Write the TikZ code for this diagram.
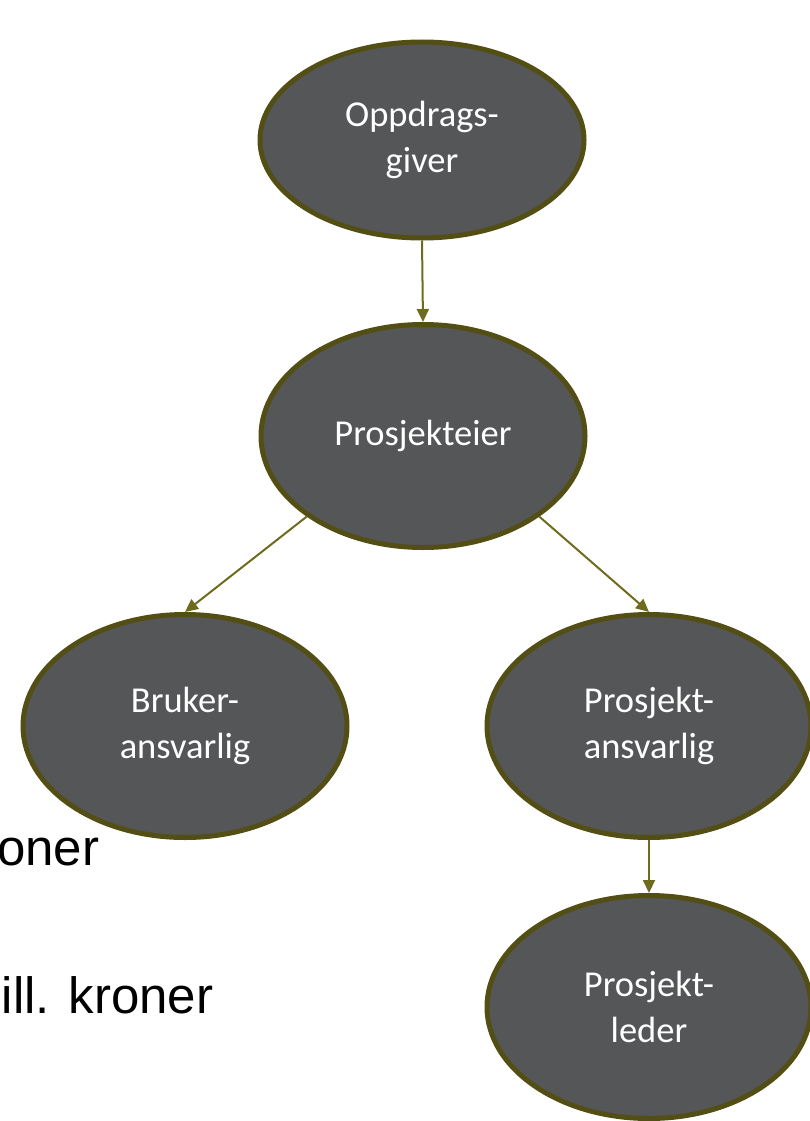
\documentclass[tikz,border=0pt]{standalone}
\usepackage{fontspec}
\setmainfont{Carlito}
\newfontfamily\arialfont{Liberation Sans}
\usetikzlibrary{arrows.meta,shapes.geometric}
\definecolor{bubblefill}{HTML}{555658}
\definecolor{bubbleedge}{HTML}{524E14}
\definecolor{linkcol}{HTML}{6F6B1E}
\tikzset{
  bubble/.style={ellipse, draw=bubbleedge, line width=5pt, fill=bubblefill,
    text=white, align=center, inner sep=0pt,
    font=\fontsize{36.5}{46}\selectfont,
    minimum width=324pt, minimum height=223pt},
  link/.style={draw=linkcol, line width=2pt,
    -{Triangle[length=13pt,width=12pt]}},
  sidetext/.style={anchor=base west, inner sep=0pt,
    font=\arialfont\fontsize{51}{60}\selectfont}
}
\begin{document}
\begin{tikzpicture}[x=1pt,y=-1pt]
\useasboundingbox (0,0) rectangle (810,1121);
\clip (0,0) rectangle (810,1121);

% background text lines
\node[sidetext] (t1) at (-3,865) {oner};
\node[sidetext] (t2) at (1.5,1013) {ill. kroner};

% organisation chart
\node[bubble, minimum height=196pt] (og) at (422,140) {Oppdrags-\\giver};
\node[bubble] (pe) at (423,436) {Prosjekteier};
\node[bubble] (bu) at (185,726) {Bruker-\\ansvarlig};
\node[bubble] (pa) at (649,726) {Prosjekt-\\ansvarlig};
\node[bubble] (pl) at (649,1007) {Prosjekt-\\leder};

\draw[link] (og.south) -- (pe.north);
\draw[link] (pe.south west) -- (bu.north);
\draw[link] (pe.south east) -- (pa.north);
\draw[link] (pa.south) -- (pl.north);
\end{tikzpicture}
\end{document}
